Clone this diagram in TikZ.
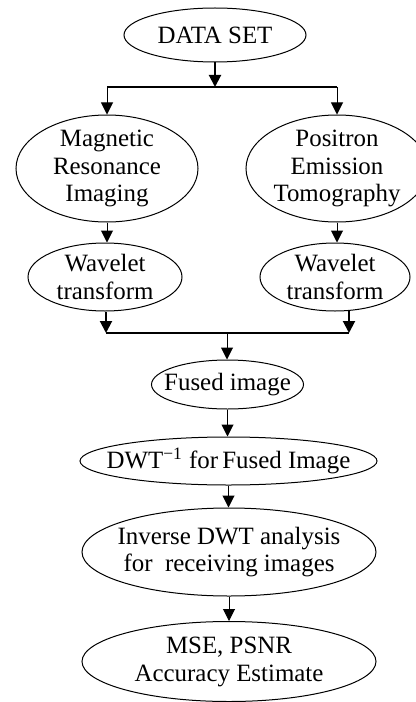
\documentclass[tikz,border=0pt]{standalone}
\usepackage{fontspec}
\setmainfont{Liberation Serif}
\usetikzlibrary{calc,shapes.geometric,arrows.meta}

\tikzset{
    stage/.style={draw, ellipse, line width=0.5bp, inner xsep=-16bp, inner ysep=-5bp,
        align=center, font=\fontsize{12.5}{14}\selectfont},
    flow/.style={line width=0.5bp, -{Triangle[length=6bp,width=6bp]}},
    thickflow/.style={line width=1bp, -{Triangle[length=6bp,width=6bp]}},
    bus/.style={line width=1.1bp}
}

\begin{document}
\begin{tikzpicture}[x=0.5bp,y=-0.5bp]

    \useasboundingbox (0,0) rectangle (416,702);
    \clip (0,0) rectangle (416,702);

    \coordinate (split)   at (215,87);
    \coordinate (split L) at (107,87);
    \coordinate (split R) at (337,87);
    \coordinate (merge)   at (227,333);
    \coordinate (merge L) at (106,333);
    \coordinate (merge R) at (349,333);

    \node[stage, minimum width=91bp, minimum height=27bp] (data) at (215,35) {DATA SET};

    \node[stage, minimum width=91bp, minimum height=53.5bp] (mri) at (107,168.5)
        {Magnetic\\Resonance\\Imaging};
    \node[stage, minimum width=91bp, minimum height=53.5bp] (pet) at (337,168.5)
        {Positron\\Emission\\Tomography};

    \node[stage, minimum width=77bp, minimum height=34bp] (wave L) at (105,277)
        {Wavelet\\transform};
    \node[stage, minimum width=75bp, minimum height=34bp] (wave R) at (335,277)
        {Wavelet\\transform};

    \node[stage, minimum width=76bp, minimum height=24.5bp] (fused) at (227.5,384.5) {Fused image};
    \node[stage, minimum width=148.5bp, minimum height=24bp] (idwt) at (228.5,461)
        {DWT\textsuperscript{\char"2212 1} for\,Fused Image};
    \node[stage, minimum width=147bp, minimum height=44bp] (inverse) at (229,552)
        {Inverse DWT analysis\\for~ receiving images};
    \node[stage, minimum width=147bp, minimum height=40bp] (mse) at (229,661.5)
        {MSE, PSNR\\Accuracy Estimate};

    \draw[thickflow] (data) -- (split);
    \draw[bus] (split L) -- (split R);
    \draw[flow] (split L) -- (mri);
    \draw[flow] (split R) -- (pet);

    \draw[flow] (mri.south) -- (mri.south |- wave L.north);
    \draw[flow] (pet.south) -- (pet.south |- wave R.north);

    \draw[thickflow] (merge L |- wave L.south) -- (merge L);
    \draw[thickflow] ($(merge R |- wave R.south) + (0,-1)$) -- (merge R);
    \draw[bus] (merge L) -- (merge R);
    \draw[flow] (merge) -- (merge |- fused.north);

    \draw[flow] (fused.south) -- (fused.south |- idwt.north);
    \draw[flow] (idwt.south) -- (idwt.south |- inverse.north);
    \draw[flow] (inverse.south) -- (inverse.south |- mse.north);

\end{tikzpicture}
\end{document}
